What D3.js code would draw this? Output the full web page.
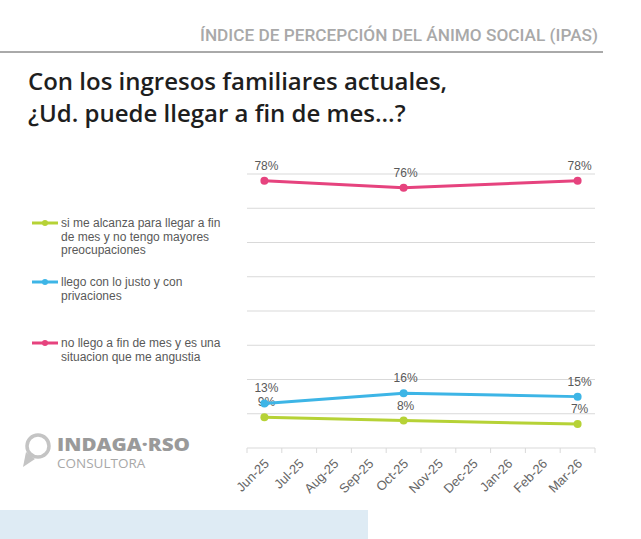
<!DOCTYPE html>
<html>
<head>
<meta charset="utf-8">
<script src="https://cdn.jsdelivr.net/npm/d3@7"></script>
<style>
  body { margin: 0; background: #fff; }
  svg { display: block; }
</style>
</head>
<body>
<svg id="chart" width="641" height="539"></svg>
<script>
var months = ["Jun-25", "Jul-25", "Aug-25", "Sep-25", "Oct-25", "Nov-25", "Dec-25", "Jan-26", "Feb-26", "Mar-26"];
var alcanza = [9, null, null, null, 8, null, null, null, null, 7];
var justo = [13, null, null, null, 16, null, null, null, null, 15];
var angustia = [78, null, null, null, 76, null, null, null, null, 78];
var yTicks = [0, 10, 20, 30, 40, 50, 60, 70, 80];

var series = [
  {name: "si me alcanza para llegar a fin|de mes y no tengo mayores|preocupaciones", values: alcanza, color: "#b6d236", legendY: 223},
  {name: "llego con lo justo y con|privaciones", values: justo, color: "#3db5e6", legendY: 282},
  {name: "no llego a fin de mes y es una|situacion que me angustia", values: angustia, color: "#e6437e", legendY: 343}
];

var svg = d3.select("#chart");
var margin = {top: 174, right: 46, bottom: 91, left: 247};
var width = 641 - margin.left - margin.right;
var height = 539 - margin.top - margin.bottom;

// header
svg.append("text")
  .attr("x", 598).attr("y", 41)
  .attr("text-anchor", "end")
  .attr("font-family", "Roboto, sans-serif")
  .attr("font-weight", 500)
  .attr("font-size", 17)
  .attr("fill", "#a9a9a9")
  .attr("textLength", 398)
  .attr("lengthAdjust", "spacingAndGlyphs")
  .text("ÍNDICE DE PERCEPCIÓN DEL ÁNIMO SOCIAL (IPAS)");

svg.append("line")
  .attr("x1", 0).attr("x2", 603)
  .attr("y1", 52).attr("y2", 52)
  .attr("stroke", "#555").attr("stroke-width", 1);

// title
var title = ["Con los ingresos familiares actuales,", "¿Ud. puede llegar a fin de mes...?"];
svg.selectAll(".title")
  .data(title)
  .enter().append("text")
  .attr("class", "title")
  .attr("x", 28)
  .attr("y", function(d, i) { return 90 + i * 32; })
  .attr("font-family", "'Open Sans', sans-serif")
  .attr("font-weight", 600)
  .attr("font-size", 24)
  .attr("fill", "#1e1e1e")
  .text(function(d) { return d; });

var g = svg.append("g").attr("transform", "translate(" + margin.left + "," + margin.top + ")");

var x = d3.scaleBand().domain(months).range([0, width]);
var y = d3.scaleLinear().domain([0, 80]).range([height, 0]);

// grid
g.selectAll(".grid")
  .data(yTicks.filter(function(d) { return d > 0; }))
  .enter().append("line")
  .attr("class", "grid")
  .attr("x1", 0).attr("x2", width)
  .attr("y1", function(d) { return y(d); })
  .attr("y2", function(d) { return y(d); })
  .attr("stroke", "#d9d9d9").attr("stroke-width", 1);

// x axis
var xAxis = g.append("g")
  .attr("transform", "translate(0," + height + ")");
xAxis.append("line")
  .attr("x1", 0).attr("x2", width)
  .attr("stroke", "#d9d9d9");
xAxis.selectAll(".tick")
  .data(months.concat(["end"]))
  .enter().append("line")
  .attr("x1", function(d, i) { return i * x.bandwidth(); })
  .attr("x2", function(d, i) { return i * x.bandwidth(); })
  .attr("y1", 0).attr("y2", 5)
  .attr("stroke", "#d9d9d9");
xAxis.selectAll(".lbl")
  .data(months)
  .enter().append("text")
  .attr("class", "lbl")
  .attr("transform", function(d) {
    return "translate(" + (x(d) + x.bandwidth() / 2 - 1) + ",10) rotate(-45)";
  })
  .attr("text-anchor", "end")
  .attr("dy", "0.7em")
  .attr("font-family", "'Liberation Sans', Arial, sans-serif")
  .attr("font-size", 13)
  .attr("fill", "#666")
  .text(function(d) { return d; });

series.forEach(function(s) {
  var pts = s.values.map(function(v, i) { return {v: v, m: months[i]}; })
    .filter(function(d) { return d.v != null; });

  g.append("path")
    .datum(pts)
    .attr("fill", "none")
    .attr("stroke", s.color)
    .attr("stroke-width", 3)
    .attr("stroke-linejoin", "round")
    .attr("d", d3.line()
      .x(function(d) { return x(d.m) + x.bandwidth() / 2; })
      .y(function(d) { return y(d.v); }));

  g.selectAll(null)
    .data(pts)
    .enter().append("circle")
    .attr("cx", function(d) { return x(d.m) + x.bandwidth() / 2; })
    .attr("cy", function(d) { return y(d.v); })
    .attr("r", 4)
    .attr("fill", s.color);

  g.selectAll(null)
    .data(pts)
    .enter().append("text")
    .attr("x", function(d) { return x(d.m) + x.bandwidth() / 2 + 2; })
    .attr("y", function(d) { return y(d.v) - 11; })
    .attr("text-anchor", "middle")
    .attr("font-family", "'Liberation Sans', Arial, sans-serif")
    .attr("font-size", 12)
    .attr("fill", "#595959")
    .text(function(d) { return d.v + "%"; });

  // legend
  svg.append("line")
    .attr("x1", 32).attr("x2", 58)
    .attr("y1", s.legendY).attr("y2", s.legendY)
    .attr("stroke", s.color).attr("stroke-width", 3);
  svg.append("circle")
    .attr("cx", 45).attr("cy", s.legendY).attr("r", 3)
    .attr("fill", s.color);
  svg.append("text")
    .attr("x", 61).attr("y", s.legendY + 4)
    .attr("font-family", "'Liberation Sans', Arial, sans-serif")
    .attr("font-size", 12)
    .attr("fill", "#595959")
    .selectAll("tspan")
    .data(s.name.split("|"))
    .enter().append("tspan")
    .attr("x", 61)
    .attr("dy", function(d, i) { return i ? 13.7 : 0; })
    .text(function(d) { return d; });
});

// logo
var logo = svg.append("g");
logo.append("circle")
  .attr("cx", 38).attr("cy", 446).attr("r", 11)
  .attr("fill", "none").attr("stroke", "#c4c4c4").attr("stroke-width", 3.5);
logo.append("path")
  .attr("d", "M26,452 L23,467 L35,459 Z")
  .attr("fill", "#c4c4c4");
logo.append("text")
  .attr("x", 57).attr("y", 451)
  .attr("font-family", "'Open Sans', sans-serif")
  .attr("font-weight", 800)
  .attr("font-size", 17)
  .attr("fill", "#9a9a9a")
  .attr("textLength", 133)
  .attr("lengthAdjust", "spacingAndGlyphs")
  .text("INDAGA·RSO");
logo.append("text")
  .attr("x", 57).attr("y", 468)
  .attr("font-family", "'Open Sans', sans-serif")
  .attr("font-size", 13.5)
  .attr("fill", "#a8a8a8")
  .text("CONSULTORA");

// bottom band
svg.append("rect")
  .attr("x", 0).attr("y", 510)
  .attr("width", 368).attr("height", 29)
  .attr("fill", "#deebf4");
</script>
</body>
</html>
